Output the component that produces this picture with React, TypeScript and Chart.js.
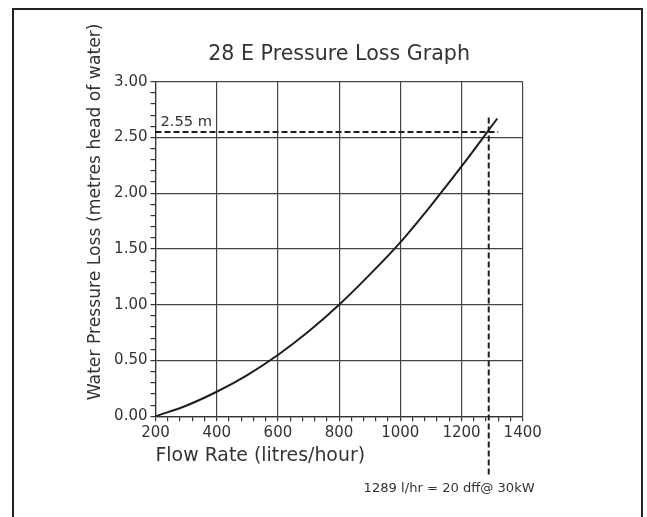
import React, { useEffect, useRef } from "react";
import { Chart, registerables } from "chart.js";

Chart.register(...registerables);

const flowRate = [200, 300, 400, 500, 600, 700, 800, 900, 1000, 1100, 1200, 1317];
const pressureLoss = [0, 0.095, 0.22, 0.37, 0.55, 0.76, 1.0, 1.27, 1.56, 1.89, 2.24, 2.67];
const refHeadX = [200, 1320];
const refHeadY = [2.55, 2.55];
const refFlowX = [1289, 1289];
const refFlowY = [2.68, -0.53];

const titleText = "28 E Pressure Loss Graph";
const xTitle = "Flow Rate (litres/hour)";
const yTitle = "Water Pressure Loss (metres head of water)";
const headLabel = "2.55 m";
const flowLabel = "1289 l/hr = 20 dff@ 30kW";

const FONT = "'DejaVu Sans', sans-serif";
const INK = "#333";

const annotPlugin = {
  id: "annot",
  afterDraw(chart: any) {
    const { ctx, chartArea, scales } = chart;
    const xs = scales.x;
    const ys = scales.y;
    ctx.save();
    ctx.fillStyle = INK;
    // y axis title
    ctx.save();
    ctx.translate(96, ys.getPixelForValue(0) - 16);
    ctx.rotate(-Math.PI / 2);
    ctx.font = `17.2px ${FONT}`;
    ctx.textAlign = "left";
    ctx.textBaseline = "middle";
    ctx.fillText(yTitle, 0, 0);
    ctx.restore();
    // 2.55 m label
    ctx.font = `14.7px ${FONT}`;
    ctx.textAlign = "left";
    ctx.textBaseline = "alphabetic";
    ctx.fillText(headLabel, chartArea.left + 5, ys.getPixelForValue(2.55) - 6);
    // flow label
    ctx.font = `13.1px ${FONT}`;
    ctx.textAlign = "right";
    ctx.textBaseline = "middle";
    ctx.fillText(flowLabel, xs.getPixelForValue(1289) + 46, ys.getPixelForValue(0) + 72);
    ctx.restore();
  },
};

export default function App() {
  const ref = useRef<HTMLCanvasElement>(null);
  useEffect(() => {
    if (!ref.current) return;
    const chart = new Chart(ref.current, {
      type: "line",
      data: {
        datasets: [
          {
            data: flowRate.map((x, i) => ({ x, y: pressureLoss[i] })),
            borderColor: "#1e1e1e",
            borderWidth: 2,
            pointRadius: 0,
            cubicInterpolationMode: "monotone",
            fill: false,
          },
          {
            data: refHeadX.map((x, i) => ({ x, y: refHeadY[i] })),
            borderColor: "#1e1e1e",
            borderWidth: 2,
            borderDash: [6, 3],
            pointRadius: 0,
            fill: false,
            clip: false,
          },
          {
            data: refFlowX.map((x, i) => ({ x, y: refFlowY[i] })),
            borderColor: "#1e1e1e",
            borderWidth: 2,
            borderDash: [6, 3],
            pointRadius: 0,
            fill: false,
            clip: false,
          },
        ],
      },
      options: {
        animation: false,
        responsive: false,
        layout: { padding: { left: 0, right: 124.3, top: 0, bottom: 0 } },
        plugins: {
          legend: { display: false },
          tooltip: { enabled: false },
          title: {
            display: true,
            text: titleText,
            fullSize: false,
            color: INK,
            font: { family: FONT, size: 20.6, weight: "normal" },
            padding: { top: 42.4, bottom: 14.6 },
          },
        },
        scales: {
          x: {
            type: "linear",
            min: 200,
            max: 1400,
            afterFit: (s: any) => {
              s.height = 100.7;
            },
            ticks: {
              stepSize: 40,
              autoSkip: false,
              maxRotation: 0,
              padding: 3,
              color: INK,
              font: { family: FONT, size: 15 },
              callback: (v: any) => (Number(v) % 200 === 0 ? String(v) : ""),
            },
            grid: {
              color: (c: any) => (c.tick && Number(c.tick.value) % 200 === 0 ? "#444" : "rgba(0,0,0,0)"),
              lineWidth: 1.2,
              tickColor: "#333",
              tickLength: 5,
            },
            border: { display: true, color: "#333", width: 1.2 },
            title: {
              display: true,
              text: xTitle,
              align: "start",
              color: INK,
              font: { family: FONT, size: 18.9 },
              padding: { top: 0, bottom: 49.2 },
            },
          },
          y: {
            type: "linear",
            min: 0,
            max: 3,
            afterFit: (s: any) => {
              s.width = 155.5;
            },
            ticks: {
              stepSize: 0.1,
              autoSkip: false,
              padding: 3,
              color: INK,
              font: { family: FONT, size: 15 },
              callback: (v: any) => {
                const n = Number(v);
                return Math.abs(n * 2 - Math.round(n * 2)) < 1e-6 ? n.toFixed(2) : "";
              },
            },
            grid: {
              color: (c: any) => {
                const n = c.tick ? Number(c.tick.value) : 0.05;
                return Math.abs(n * 2 - Math.round(n * 2)) < 1e-6 ? "#444" : "rgba(0,0,0,0)";
              },
              lineWidth: 1.2,
              tickColor: "#333",
              tickLength: 5,
            },
            border: { display: true, color: "#333", width: 1.2 },
          },
        },
      },
      plugins: [annotPlugin],
    } as any);
    return () => chart.destroy();
  }, []);

  return (
    <div style={{ position: "fixed", left: 0, top: 0, width: 647, height: 517, background: "#fff", overflow: "hidden" }}>
      <div
        style={{
          position: "absolute",
          left: 12,
          top: 8,
          width: 631,
          height: 560,
          border: "2px solid #222",
          boxSizing: "border-box",
        }}
      />
      <canvas ref={ref} width={647} height={517} style={{ position: "absolute", left: 0, top: 0, display: "block" }} />
    </div>
  );
}
